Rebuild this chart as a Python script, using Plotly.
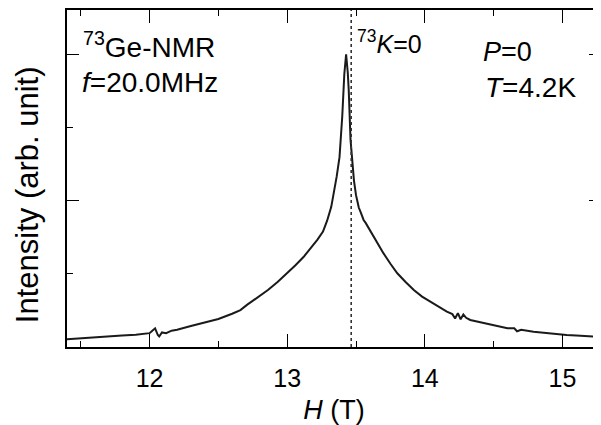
import plotly.graph_objects as go

# Field H (T) and NMR intensity (arb. unit)
field_T = [11.40, 11.50, 11.60, 11.70, 11.80, 11.90, 11.95, 12.00, 12.02, 12.04,
           12.06, 12.07, 12.09, 12.12, 12.16, 12.20, 12.30, 12.40, 12.50, 12.60,
           12.66, 12.71, 12.80, 12.86, 12.93, 13.00, 13.06, 13.12, 13.18, 13.22,
           13.26, 13.29, 13.32, 13.34, 13.36, 13.38, 13.40, 13.415, 13.428, 13.44,
           13.447, 13.46, 13.47, 13.485, 13.50, 13.51, 13.52, 13.535, 13.545, 13.555,
           13.57, 13.585, 13.60, 13.615, 13.63, 13.65, 13.67, 13.70, 13.75, 13.80,
           13.86, 13.92, 13.98, 14.04, 14.10, 14.16, 14.20, 14.22, 14.24, 14.26,
           14.28, 14.30, 14.33, 14.40, 14.45, 14.50, 14.55, 14.60, 14.65, 14.67,
           14.70, 14.79, 14.90, 14.95, 15.03, 15.10, 15.20, 15.28]
intensity = [0.053, 0.058, 0.066, 0.072, 0.078, 0.084, 0.090, 0.095, 0.112, 0.128,
             0.082, 0.072, 0.100, 0.094, 0.112, 0.118, 0.144, 0.168, 0.192, 0.228,
             0.253, 0.290, 0.350, 0.390, 0.445, 0.504, 0.560, 0.618, 0.685, 0.735,
             0.790, 0.865, 0.960, 1.060, 1.170, 1.300, 1.580, 1.870, 2.005, 1.880,
             1.760, 1.420, 1.300, 1.140, 1.040, 1.000, 0.955, 0.920, 0.892, 0.870,
             0.850, 0.825, 0.800, 0.785, 0.752, 0.725, 0.690, 0.641, 0.570, 0.505,
             0.445, 0.390, 0.345, 0.310, 0.275, 0.242, 0.225, 0.195, 0.232, 0.190,
             0.222, 0.200, 0.185, 0.170, 0.160, 0.150, 0.140, 0.128, 0.128, 0.108,
             0.118, 0.104, 0.095, 0.088, 0.082, 0.078, 0.072, 0.070]

x_ticks = [12, 13, 14, 15]
x_tick_text = ["12", "13", "14", "15"]
k_zero_field = 13.465

FONT = "Arial, Liberation Sans, sans-serif"

fig = go.Figure()
fig.add_trace(go.Scatter(x=field_T, y=intensity, mode="lines",
                         line=dict(color="#1a1a1a", width=2),
                         showlegend=False, hoverinfo="x+y"))

fig.add_shape(type="line", xref="x", yref="paper", x0=k_zero_field, x1=k_zero_field,
              y0=0, y1=1, line=dict(color="#333333", width=1.6, dash="dot"))


def note(x, y, text, size, angle=0, xanchor="left"):
    fig.add_annotation(x=x, y=y, xref="paper", yref="paper", showarrow=False,
                       xanchor=xanchor, yanchor="middle", text=text, textangle=angle,
                       font=dict(family=FONT, size=size, color="black"))


note(0.026, 0.896, "<sup>73</sup>Ge-NMR", 28)
note(0.024, 0.785, "<i>f</i>=20.0MHz", 28)
note(0.539, 0.905, "<sup>73</sup><i>K</i>=0", 25)
note(0.776, 0.875, "<i>P</i>=0", 27)
note(0.779, 0.77, "<i>T</i>=4.2K", 28)
# y-axis title
note(-0.074, 0.452, "Intensity (arb. unit)", 31, angle=-90, xanchor="center")

# the page body has an 8 px margin, so the figure is sized to end at the window edge
fig.update_layout(
    width=593, height=417,
    margin=dict(l=59, r=0, t=2, b=78),
    paper_bgcolor="white", plot_bgcolor="white",
    font=dict(family=FONT, color="black"),
)
fig.update_xaxes(
    range=[11.40, 15.28], tickvals=x_ticks, ticktext=x_tick_text,
    ticks="inside", ticklen=13, tickwidth=1.3, tickcolor="black",
    minor=dict(dtick=0.5, tick0=0, ticks="inside", ticklen=6, tickwidth=1.3, tickcolor="black"),
    showline=True, linecolor="black", linewidth=1.5, mirror="ticks",
    showgrid=False, zeroline=False, automargin=False,
    tickfont=dict(size=25, family=FONT), ticklabelstandoff=8,
    title=dict(text="<i>H</i> (T)", font=dict(size=27, family=FONT), standoff=13),
)
fig.update_yaxes(
    range=[0, 2.308], dtick=1, tick0=0, showticklabels=False,
    ticks="inside", ticklen=12, tickwidth=1.3, tickcolor="black",
    minor=dict(dtick=0.5, tick0=0, ticks="inside", ticklen=6, tickwidth=1.3, tickcolor="black"),
    showline=True, linecolor="black", linewidth=1.5, mirror="ticks",
    showgrid=False, zeroline=False, automargin=False,
)

fig.write_html("out.html")
